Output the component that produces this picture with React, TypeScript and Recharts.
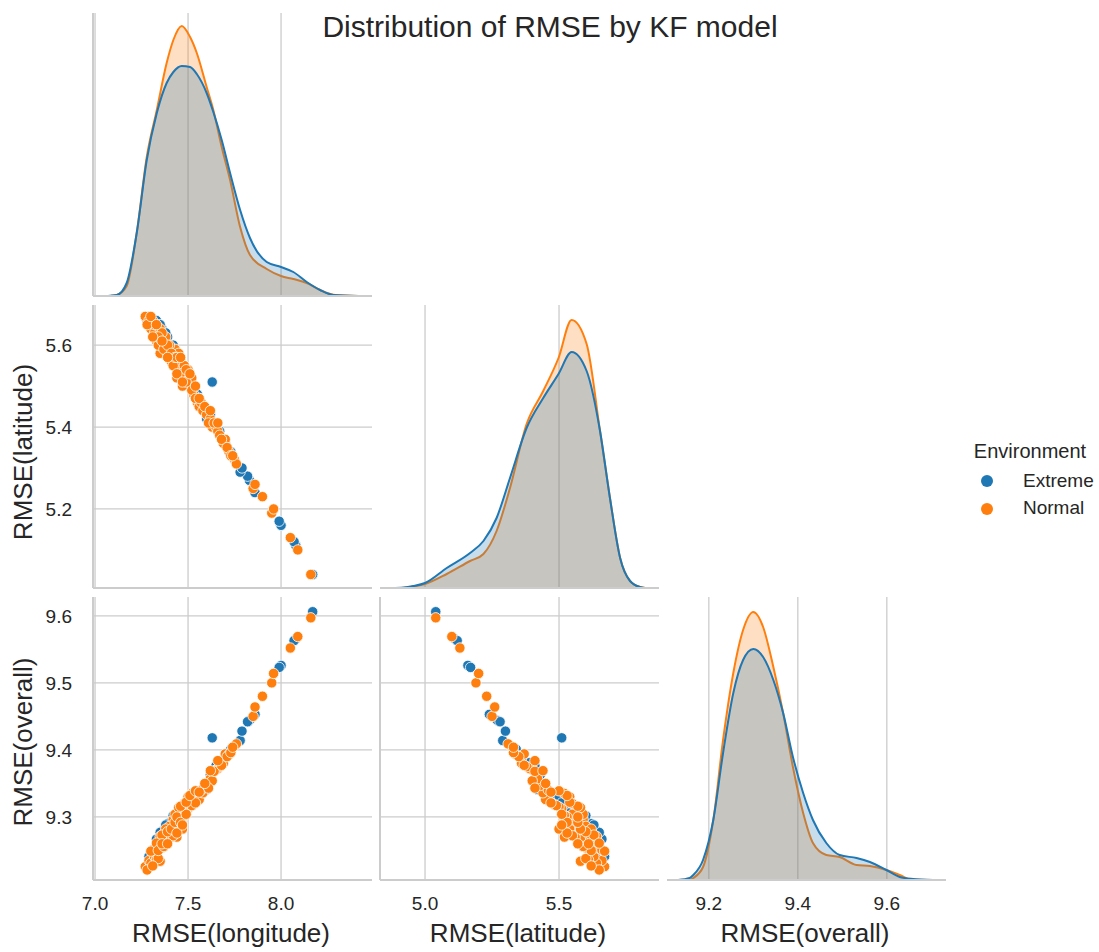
import React from "react";
import { Area, AreaChart, CartesianGrid, Scatter, ScatterChart, XAxis, YAxis } from "recharts";

const BLUE = "#1f77b4";
const ORANGE = "#ff7f0e";
const GRID = "#cccccc";
const TEXT = "#262626";
const FONT = '"Liberation Sans", Arial, Helvetica, sans-serif';

// tick labels
const lonTicks = [7.0, 7.5, 8.0];
const latTicks = [5.0, 5.5];
const overallTicks = [9.2, 9.4, 9.6];
const latRowTicks = [5.2, 5.4, 5.6];
const overallRowTicks = [9.3, 9.4, 9.5, 9.6];

// Extreme environment runs
const extremeLon = [8.17, 8.08, 8.07, 8.0, 7.99, 7.86, 7.83, 7.82, 7.78, 7.79, 7.63, 7.73, 7.62, 7.58, 7.52, 7.5, 7.48, 7.46, 7.43, 7.41, 7.39, 7.37, 7.36, 7.34, 7.32, 7.3, 7.29, 7.28, 7.44, 7.42, 7.55, 7.53, 7.4, 7.35, 7.45, 7.67, 7.7, 7.38, 7.47, 7.6, 7.31, 7.33, 7.35, 7.38, 7.42, 7.44, 7.49, 7.51, 7.56, 7.65, 7.36, 7.47];
const extremeLat = [5.04, 5.11, 5.12, 5.16, 5.17, 5.24, 5.27, 5.28, 5.29, 5.3, 5.51, 5.34, 5.43, 5.45, 5.51, 5.52, 5.53, 5.56, 5.58, 5.6, 5.62, 5.63, 5.64, 5.64, 5.65, 5.66, 5.67, 5.66, 5.55, 5.57, 5.48, 5.5, 5.59, 5.62, 5.54, 5.39, 5.36, 5.6, 5.51, 5.42, 5.64, 5.66, 5.65, 5.63, 5.6, 5.58, 5.52, 5.51, 5.47, 5.41, 5.61, 5.54];
const extremeOverall = [9.606, 9.566, 9.563, 9.526, 9.523, 9.453, 9.444, 9.442, 9.414, 9.428, 9.418, 9.401, 9.363, 9.342, 9.329, 9.318, 9.308, 9.31, 9.298, 9.294, 9.29, 9.28, 9.279, 9.263, 9.253, 9.243, 9.241, 9.227, 9.288, 9.284, 9.335, 9.331, 9.28, 9.258, 9.29, 9.381, 9.388, 9.27, 9.288, 9.341, 9.239, 9.267, 9.277, 9.288, 9.302, 9.306, 9.31, 9.321, 9.337, 9.376, 9.26, 9.306];

// Normal environment runs
const normalLon = [7.27, 7.29, 7.3, 7.32, 7.33, 7.35, 7.36, 7.37, 7.38, 7.35, 7.4, 7.39, 7.42, 7.41, 7.43, 7.44, 7.45, 7.46, 7.47, 7.48, 7.5, 7.5, 7.51, 7.53, 7.52, 7.55, 7.56, 7.58, 7.6, 7.62, 7.63, 7.65, 7.66, 7.67, 7.69, 7.7, 7.72, 7.75, 7.76, 7.85, 7.86, 7.9, 7.95, 7.96, 8.05, 8.09, 8.16, 7.43, 7.45, 7.4, 7.38, 7.35, 7.32, 7.31, 7.48, 7.52, 7.47, 7.44, 7.54, 7.57, 7.61, 7.64, 7.68, 7.71, 7.73, 7.42, 7.36, 7.34, 7.28, 7.3, 7.33, 7.34, 7.37, 7.39, 7.41, 7.43, 7.44, 7.46, 7.49, 7.46, 7.49, 7.51, 7.54, 7.56, 7.59, 7.62, 7.66, 7.74, 7.36, 7.44, 7.39, 7.31, 7.47];
const normalLat = [5.67, 5.66, 5.64, 5.63, 5.61, 5.62, 5.6, 5.61, 5.59, 5.58, 5.57, 5.58, 5.59, 5.56, 5.56, 5.54, 5.55, 5.55, 5.53, 5.52, 5.54, 5.51, 5.5, 5.48, 5.49, 5.46, 5.45, 5.44, 5.43, 5.42, 5.4, 5.4, 5.39, 5.38, 5.36, 5.37, 5.34, 5.32, 5.31, 5.25, 5.26, 5.23, 5.19, 5.2, 5.13, 5.1, 5.04, 5.59, 5.58, 5.6, 5.62, 5.64, 5.65, 5.66, 5.55, 5.52, 5.5, 5.52, 5.47, 5.46, 5.41, 5.41, 5.37, 5.35, 5.33, 5.55, 5.63, 5.6, 5.65, 5.67, 5.65, 5.62, 5.59, 5.6, 5.58, 5.57, 5.57, 5.53, 5.51, 5.57, 5.54, 5.53, 5.5, 5.47, 5.45, 5.44, 5.41, 5.33, 5.61, 5.53, 5.57, 5.62, 5.51];
const normalOverall = [9.226, 9.235, 9.231, 9.241, 9.236, 9.258, 9.254, 9.268, 9.264, 9.234, 9.268, 9.266, 9.296, 9.27, 9.286, 9.282, 9.296, 9.304, 9.3, 9.302, 9.33, 9.312, 9.315, 9.319, 9.317, 9.324, 9.326, 9.336, 9.347, 9.357, 9.354, 9.37, 9.372, 9.375, 9.38, 9.394, 9.393, 9.406, 9.409, 9.45, 9.464, 9.48, 9.5, 9.514, 9.552, 9.569, 9.597, 9.304, 9.314, 9.286, 9.282, 9.271, 9.253, 9.251, 9.32, 9.335, 9.282, 9.27, 9.321, 9.34, 9.343, 9.368, 9.377, 9.39, 9.396, 9.272, 9.273, 9.238, 9.221, 9.249, 9.261, 9.25, 9.256, 9.278, 9.282, 9.292, 9.3, 9.292, 9.304, 9.316, 9.322, 9.332, 9.339, 9.337, 9.35, 9.369, 9.384, 9.404, 9.26, 9.276, 9.26, 9.227, 9.288];

// density curves
const lonGrid = [7.054, 7.081, 7.117, 7.17, 7.224, 7.278, 7.332, 7.385, 7.421, 7.466, 7.511, 7.547, 7.6, 7.636, 7.681, 7.726, 7.78, 7.833, 7.923, 8.0, 8.066, 8.138, 8.21, 8.281, 8.416];
const lonKdeExtreme = [0, 0.003, 0.01, 0.13, 0.63, 1.36, 1.83, 2.13, 2.24, 2.3, 2.29, 2.22, 2.03, 1.84, 1.56, 1.23, 0.86, 0.58, 0.34, 0.29, 0.24, 0.14, 0.06, 0.01, 0];
const lonKdeNormal = [0, 0, 0.01, 0.1, 0.63, 1.39, 1.86, 2.33, 2.56, 2.7, 2.59, 2.43, 2.09, 1.86, 1.49, 1.16, 0.69, 0.41, 0.27, 0.2, 0.17, 0.13, 0.06, 0.013, 0];

const latGrid = [4.876, 4.919, 4.956, 5.0, 5.081, 5.168, 5.218, 5.267, 5.317, 5.379, 5.441, 5.498, 5.547, 5.603, 5.653, 5.69, 5.728, 5.765, 5.802, 5.821];
const latKdeExtreme = [0, 0.005, 0.02, 0.05, 0.2, 0.35, 0.47, 0.7, 1.1, 1.6, 1.9, 2.14, 2.36, 2.17, 1.57, 0.9, 0.3, 0.07, 0.01, 0];
const latKdeNormal = [0, 0, 0.015, 0.04, 0.14, 0.27, 0.34, 0.57, 1.0, 1.64, 1.97, 2.3, 2.68, 2.44, 1.57, 0.9, 0.3, 0.07, 0.01, 0];

const overallGrid = [9.131, 9.157, 9.165, 9.187, 9.21, 9.232, 9.255, 9.277, 9.3, 9.322, 9.345, 9.367, 9.389, 9.412, 9.434, 9.464, 9.494, 9.532, 9.562, 9.599, 9.629, 9.659, 9.704];
const overallKdeExtreme = [0, 0.02, 0.05, 0.2, 0.6, 1.27, 1.87, 2.2, 2.31, 2.23, 2.0, 1.67, 1.23, 0.87, 0.6, 0.37, 0.25, 0.22, 0.18, 0.1, 0.03, 0.01, 0];
const overallKdeNormal = [0, 0, 0.02, 0.13, 0.6, 1.4, 2.07, 2.5, 2.68, 2.53, 2.13, 1.67, 1.13, 0.67, 0.37, 0.25, 0.23, 0.15, 0.14, 0.1, 0.05, 0, 0];

const extremePoints = extremeLon.map((lon, i) => ({ lon, lat: extremeLat[i], overall: extremeOverall[i] }));
const normalPoints = normalLon.map((lon, i) => ({ lon, lat: normalLat[i], overall: normalOverall[i] }));

const kdeRows = (grid: number[], ext: number[], nor: number[]) =>
    grid.map((x, i) => ({ x, extreme: ext[i], normal: nor[i] }));

// axis ranges
const lonRange = [6.989, 8.489];
const latRange = [4.832, 5.873];
const overallRange = [9.106, 9.733];
const latRowRange = [5.007, 5.698];
const overallRowRange = [9.206, 9.628];
const kdeRange = [0, 2.83];

// panel placement (pixels)
const COL_X = [93, 380, 667];
const ROW_Y = [13, 305, 597];
const PW = 279;
const PH = 283;
const PAD = 6;

const fmt = (v: number) => v.toFixed(1);
const tickStyle = { fontSize: 19, fill: TEXT, fontFamily: FONT };
const spine = { stroke: GRID, strokeWidth: 2 };

// grid lines only at the tick values (no box around the panel)
const gridX = (ticks: number[], range: number[], left: number) => (p: any) => {
    const o = p && p.offset;
    const x0 = o && Number.isFinite(o.left) ? o.left : left;
    const w = o && Number.isFinite(o.width) ? o.width : PW;
    return ticks.map((t) => x0 + ((t - range[0]) / (range[1] - range[0])) * w);
};
const gridY = (ticks: number[], range: number[]) => (p: any) => {
    const o = p && p.offset;
    const y0 = o && Number.isFinite(o.top) ? o.top : PAD;
    const h = o && Number.isFinite(o.height) ? o.height : PH;
    return ticks.map((t) => y0 + ((range[1] - t) / (range[1] - range[0])) * h);
};

const dot = (color: string) => (p: any) => (
    <circle cx={p.cx} cy={p.cy} r={5.2} fill={color} stroke="#ffffff" strokeWidth={0.8} />
);

type ScatterProps = {
    col: number;
    row: number;
    xKey: string;
    yKey: string;
    xDomain: number[];
    yDomain: number[];
    xTicks: number[];
    yTicks: number[];
    showX: boolean;
    showY: boolean;
};

function ScatterPanel({ col, row, xKey, yKey, xDomain, yDomain, xTicks, yTicks, showX, showY }: ScatterProps)
{
    const padL = showY ? 70 : PAD;
    const padB = showX ? 40 : PAD;
    return (
        <div style={{ position: "absolute", left: COL_X[col] - padL, top: ROW_Y[row] - PAD }}>
            <ScatterChart width={PW + padL + PAD} height={PH + PAD + padB} margin={{ top: PAD, right: PAD, bottom: 0, left: 0 }}>
                <CartesianGrid stroke={GRID} strokeWidth={1.3}
                    verticalCoordinatesGenerator={gridX(xTicks, xDomain, padL)}
                    horizontalCoordinatesGenerator={gridY(yTicks, yDomain)} />
                <XAxis type="number" dataKey={xKey} domain={xDomain} ticks={xTicks} allowDataOverflow interval={0}
                    height={padB} tick={showX ? tickStyle : false} tickLine={false} tickSize={0} tickMargin={17}
                    axisLine={spine} tickFormatter={fmt} />
                <YAxis type="number" dataKey={yKey} domain={yDomain} ticks={yTicks} allowDataOverflow interval={0}
                    width={padL} tick={showY ? tickStyle : false} tickLine={false} tickSize={0} tickMargin={21}
                    axisLine={spine} tickFormatter={fmt} />
                <Scatter data={extremePoints} shape={dot(BLUE)} isAnimationActive={false} />
                <Scatter data={normalPoints} shape={dot(ORANGE)} isAnimationActive={false} />
            </ScatterChart>
        </div>
    );
}

type KdeProps = {
    col: number;
    data: { x: number; extreme: number; normal: number }[];
    domain: number[];
    ticks: number[];
    showX: boolean;
    leftSpine: boolean;
};

function KdePanel({ col, data, domain, ticks, showX, leftSpine }: KdeProps)
{
    const padB = showX ? 40 : PAD;
    return (
        <div style={{ position: "absolute", left: COL_X[col] - PAD, top: ROW_Y[col] - PAD }}>
            <AreaChart width={PW + 2 * PAD} height={PH + PAD + padB} data={data}
                margin={{ top: PAD, right: PAD, bottom: 0, left: leftSpine ? 0 : PAD }}>
                <CartesianGrid stroke={GRID} strokeWidth={1.3} horizontal={false}
                    verticalCoordinatesGenerator={gridX(ticks, domain, PAD)} />
                <XAxis type="number" dataKey="x" domain={domain} ticks={ticks} allowDataOverflow interval={0}
                    height={padB} tick={showX ? tickStyle : false} tickLine={false} tickSize={0} tickMargin={17}
                    axisLine={spine} tickFormatter={fmt} />
                <YAxis type="number" domain={kdeRange} hide={!leftSpine} width={PAD} tick={false}
                    tickLine={false} axisLine={spine} allowDataOverflow />
                <Area dataKey="normal" type="monotone" stroke={ORANGE} strokeWidth={2} fill={ORANGE}
                    fillOpacity={0.25} dot={false} activeDot={false} isAnimationActive={false} />
                <Area dataKey="extreme" type="monotone" stroke={BLUE} strokeWidth={2} fill={BLUE}
                    fillOpacity={0.25} dot={false} activeDot={false} isAnimationActive={false} />
            </AreaChart>
        </div>
    );
}

export default function App()
{
    return (
        <div style={{ position: "absolute", left: 0, top: 0, width: 1099, height: 952, background: "#ffffff", overflow: "hidden", fontFamily: FONT }}>
            <KdePanel col={0} data={kdeRows(lonGrid, lonKdeExtreme, lonKdeNormal)} domain={lonRange}
                ticks={lonTicks} showX={false} leftSpine />
            <KdePanel col={1} data={kdeRows(latGrid, latKdeExtreme, latKdeNormal)} domain={latRange}
                ticks={latTicks} showX={false} leftSpine={false} />
            <KdePanel col={2} data={kdeRows(overallGrid, overallKdeExtreme, overallKdeNormal)} domain={overallRange}
                ticks={overallTicks} showX leftSpine={false} />

            <ScatterPanel col={0} row={1} xKey="lon" yKey="lat" xDomain={lonRange} yDomain={latRowRange}
                xTicks={lonTicks} yTicks={latRowTicks} showX={false} showY />
            <ScatterPanel col={0} row={2} xKey="lon" yKey="overall" xDomain={lonRange} yDomain={overallRowRange}
                xTicks={lonTicks} yTicks={overallRowTicks} showX showY />
            <ScatterPanel col={1} row={2} xKey="lat" yKey="overall" xDomain={latRange} yDomain={overallRowRange}
                xTicks={latTicks} yTicks={overallRowTicks} showX showY={false} />

            <svg width={1099} height={952} style={{ position: "absolute", left: 0, top: 0, pointerEvents: "none" }}
                fontFamily={FONT} fill={TEXT}>
                <text x={550} y={37} fontSize={30} textAnchor="middle">Distribution of RMSE by KF model</text>

                <text x={231} y={942} fontSize={26} textAnchor="middle">RMSE(longitude)</text>
                <text x={518} y={942} fontSize={26} textAnchor="middle">RMSE(latitude)</text>
                <text x={805} y={942} fontSize={26} textAnchor="middle">RMSE(overall)</text>

                <text x={32} y={452} fontSize={26} textAnchor="middle" transform="rotate(-90 32 452)">RMSE(latitude)</text>
                <text x={32} y={742} fontSize={26} textAnchor="middle" transform="rotate(-90 32 742)">RMSE(overall)</text>

                <text x={1030} y={458} fontSize={20} textAnchor="middle">Environment</text>
                <circle cx={987} cy={481} r={6} fill={BLUE} />
                <text x={1023} y={487} fontSize={19}>Extreme</text>
                <circle cx={987} cy={509} r={6} fill={ORANGE} />
                <text x={1023} y={514} fontSize={19}>Normal</text>
            </svg>
        </div>
    );
}
